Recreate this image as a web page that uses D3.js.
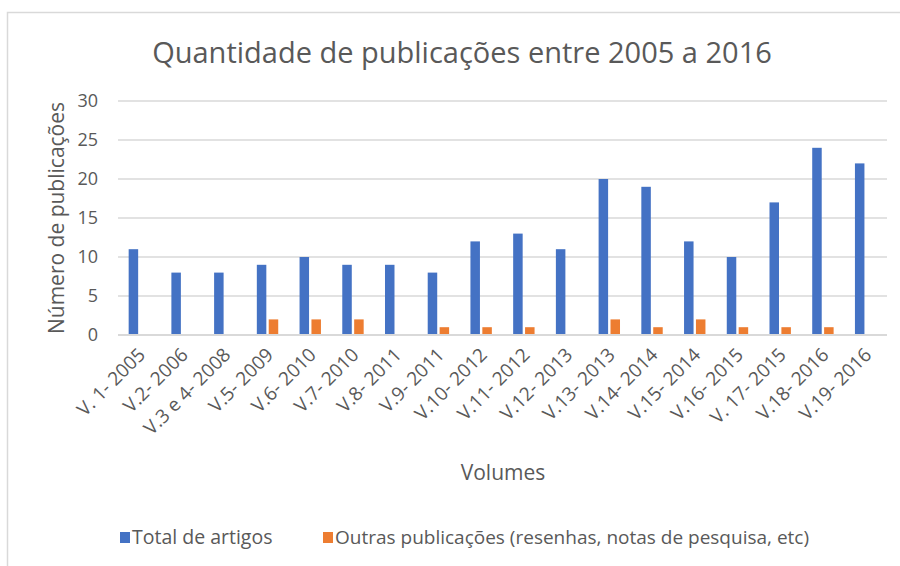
<!DOCTYPE html>
<html>
<head>
<meta charset="utf-8">
<script src="https://cdn.jsdelivr.net/npm/d3@7"></script>
<style>
  body { margin: 0; background: #fff; overflow: hidden; }
  svg { display: block; }
  text { font-family: 'Open Sans', sans-serif; fill: #595959; }
</style>
</head>
<body>
<div id="chart"></div>
<script>
// data
const volumes = ['V. 1- 2005', 'V.2- 2006', 'V.3 e 4- 2008', 'V.5- 2009', 'V.6- 2010', 'V.7- 2010',
  'V.8- 2011', 'V.9- 2011', 'V.10- 2012', 'V.11- 2012', 'V.12- 2013', 'V.13- 2013', 'V.14- 2014',
  'V.15- 2014', 'V.16- 2015', 'V. 17- 2015', 'V.18- 2016', 'V.19- 2016']
const totalArtigos = [11, 8, 8, 9, 10, 9, 9, 8, 12, 13, 11, 20, 19, 12, 10, 17, 24, 22]
const outrasPublicacoes = [0, 0, 0, 2, 2, 2, 0, 1, 1, 1, 0, 2, 1, 2, 1, 1, 1, 0]
const seriesNames = ['Total de artigos', 'Outras publicações (resenhas, notas de pesquisa, etc)']
const yTicks = [0, 5, 10, 15, 20, 25, 30]

const colors = ['#4472C4', '#ED7D31']
const width = 900
const height = 566
const margin = { top: 101, right: 13, bottom: 231, left: 118 }
const innerWidth = width - margin.left - margin.right
const innerHeight = height - margin.top - margin.bottom

const svg = d3.select('#chart').append('svg')
  .attr('width', width)
  .attr('height', height)

// chart frame (only top and left edges show)
svg.append('path')
  .attr('d', 'M7.5,566 V12.5 H900')
  .attr('fill', 'none')
  .attr('stroke', '#d9d9d9')
  .attr('stroke-width', 1.5)

svg.append('text')
  .attr('x', 462)
  .attr('y', 63)
  .attr('text-anchor', 'middle')
  .style('font-size', '29px')
  .text('Quantidade de publicações entre 2005 a 2016')

const g = svg.append('g')
  .attr('transform', 'translate(' + margin.left + ',' + margin.top + ')')

const xScale = d3.scaleBand().domain(volumes).range([0, innerWidth])
const yScale = d3.scaleLinear().domain([0, 30]).range([innerHeight, 0])
const barW = 9.5
const xInner = d3.scaleOrdinal().domain([0, 1]).range([-barW - 1.2, 1.2])

// gridlines
g.append('g')
  .selectAll('line')
  .data(yTicks)
  .join('line')
  .attr('x1', 0)
  .attr('x2', innerWidth)
  .attr('y1', d => yScale(d))
  .attr('y2', d => yScale(d))
  .attr('stroke', '#d9d9d9')
  .attr('stroke-width', 1.5)

const yAxis = g.append('g')
  .call(d3.axisLeft(yScale).tickValues(yTicks).tickSize(0).tickPadding(20))
  .attr('font-family', null)
  .attr('font-size', null)
yAxis.select('.domain').remove()
yAxis.selectAll('text').style('font-size', '18px')

const rows = [totalArtigos, outrasPublicacoes]
rows.forEach((vals, s) => {
  g.append('g')
    .selectAll('rect')
    .data(vals.map((v, i) => ({ cat: volumes[i], v: v })).filter(d => d.v > 0))
    .join('rect')
    .attr('x', d => xScale(d.cat) + xScale.bandwidth() / 2 + xInner(s))
    .attr('y', d => yScale(d.v))
    .attr('width', barW)
    .attr('height', d => innerHeight - yScale(d.v))
    .attr('fill', colors[s])
})

// x axis line drawn on top of the bars
g.append('line')
  .attr('x1', 0)
  .attr('x2', innerWidth)
  .attr('y1', innerHeight)
  .attr('y2', innerHeight)
  .attr('stroke', '#d9d9d9')
  .attr('stroke-width', 2)

const xAxis = g.append('g')
  .attr('transform', 'translate(0,' + innerHeight + ')')
  .call(d3.axisBottom(xScale).tickSize(0))
  .attr('font-family', null)
  .attr('font-size', null)
xAxis.select('.domain').remove()
xAxis.selectAll('text')
  .style('font-size', '19px')
  .attr('text-anchor', 'end')
  .attr('dy', null)
  .attr('y', 0)
  .attr('transform', 'translate(7,21) rotate(-45)')

svg.append('text')
  .attr('transform', 'translate(64,' + (margin.top + innerHeight / 2) + ') rotate(-90)')
  .attr('text-anchor', 'middle')
  .style('font-size', '21px')
  .text('Número de publicações')

svg.append('text')
  .attr('x', 503)
  .attr('y', 480)
  .attr('text-anchor', 'middle')
  .style('font-size', '21px')
  .text('Volumes')

// legend
const legendX = [120, 323]
const legend = svg.append('g')
  .selectAll('g')
  .data(seriesNames)
  .join('g')
  .attr('transform', (d, i) => 'translate(' + legendX[i] + ',537)')
legend.append('rect')
  .attr('x', 0)
  .attr('y', -5)
  .attr('width', 10)
  .attr('height', 11)
  .attr('fill', (d, i) => colors[i])
legend.append('text')
  .attr('x', 12)
  .attr('y', 7)
  .style('font-size', (d, i) => i === 0 ? '19.5px' : '19px')
  .text(d => d)
</script>
</body>
</html>
